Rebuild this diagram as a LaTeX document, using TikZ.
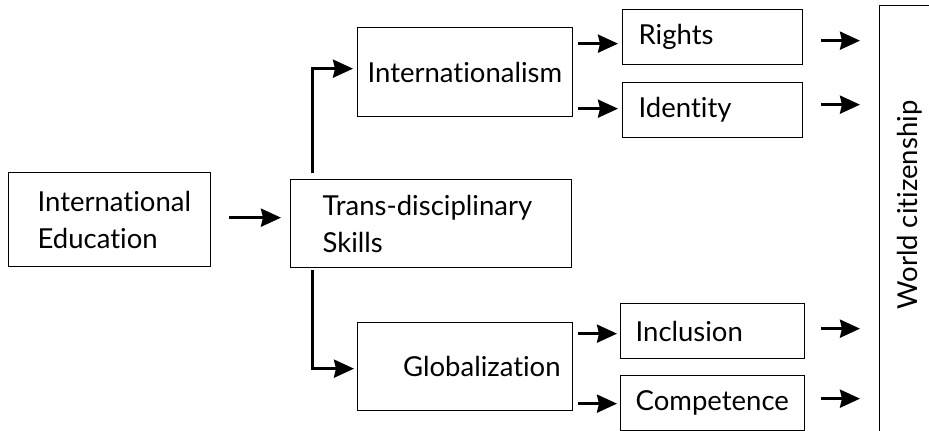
\documentclass[tikz,border=0pt]{standalone}
\usepackage{fontspec}
\setmainfont{Lato}[Ligatures={NoCommon,NoRequired,NoContextual}]
\usetikzlibrary{arrows.meta,calc}
\begin{document}
\begin{tikzpicture}[x=1pt,y=-1pt,
  box/.style={draw, line width=1.3pt, inner ysep=0pt, anchor=north west,
    font=\fontsize{27.5}{37}\selectfont, align=left},
  arr/.style={line width=3pt, -{Stealth[length=20pt,width=18pt,inset=2pt]}},
  wtxt/.style={font=\fontsize{27.5}{37}\selectfont, rotate=90}]
\clip (0,0) rectangle (929,431);
\useasboundingbox (0,0) rectangle (929,431);
\fill[white] (0,0) rectangle (929,431);
% boxes
\node[box, minimum width=202pt, minimum height=94pt, inner xsep=29pt, text width=144pt] (ie) at (8,172) {\mbox{International}\\\mbox{Education}};
\node[box, minimum width=281pt, minimum height=88pt, inner xsep=32pt, text width=217pt] (tds) at (290,179) {\mbox{Trans-disciplinary}\\\mbox{Skills}};
\node[box, minimum width=215pt, minimum height=89pt, inner xsep=10pt, text width=195pt] (intl) at (357,27) {\mbox{Internationalism}};
\node[box, minimum width=215pt, minimum height=88pt, inner xsep=12pt, text width=191pt, align=right] (glob) at (357,322) {\mbox{Globalization}};
\node[box, minimum width=180pt, minimum height=55pt, inner xsep=16pt, text width=148pt] (rights) at (622,9) {\mbox{Rights}};
\node[box, minimum width=180pt, minimum height=55pt, inner xsep=16pt, text width=148pt] (identity) at (622,82) {\mbox{Identity}};
\node[box, minimum width=184pt, minimum height=55pt, inner xsep=15pt, text width=154pt] (inclusion) at (620,303) {\mbox{Inclusion}};
\node[box, minimum width=184pt, minimum height=55pt, inner xsep=15pt, text width=154pt] (competence) at (620,375) {\mbox{Competence}};
\node[draw, line width=1.3pt, anchor=north west, minimum width=80pt, minimum height=450pt] (world) at (879,5) {};
\node[wtxt] (wtext) at (910,205) {World citizenship};
% connectors
\draw[arr] ($(ie.east)+(18,-2)$) -- ($(tds.west)+(-9,-6)$);
\draw[arr] ($(tds.north west)+(22,-6)$) |- ($(intl.west)+(-4,-3.5)$);
\draw[arr] ($(tds.south west)+(22,2)$) |- ($(glob.west)+(-3,2)$);
\draw[arr] ($(intl.east)+(5,-28.5)$) -- ($(rights.west)+(-4,6.5)$);
\draw[arr] ($(intl.east)+(5,36.5)$) -- ($(identity.west)+(-4,-1.5)$);
\draw[arr] ($(glob.east)+(5,-33)$) -- ($(inclusion.west)+(-3,2.5)$);
\draw[arr] ($(glob.east)+(5,37)$) -- ($(competence.west)+(-3,0.5)$);
\draw[arr] ($(rights.east)+(18,3.5)$) -- ($(rights.east -| world.west)+(-19,3.5)$);
\draw[arr] ($(identity.east)+(18,-5.5)$) -- ($(identity.east -| world.west)+(-19,-5.5)$);
\draw[arr] ($(inclusion.east)+(16,-2.5)$) -- ($(inclusion.east -| world.west)+(-19,-2.5)$);
\draw[arr] ($(competence.east)+(16,-4.5)$) -- ($(competence.east -| world.west)+(-19,-4.5)$);
\end{tikzpicture}
\end{document}
